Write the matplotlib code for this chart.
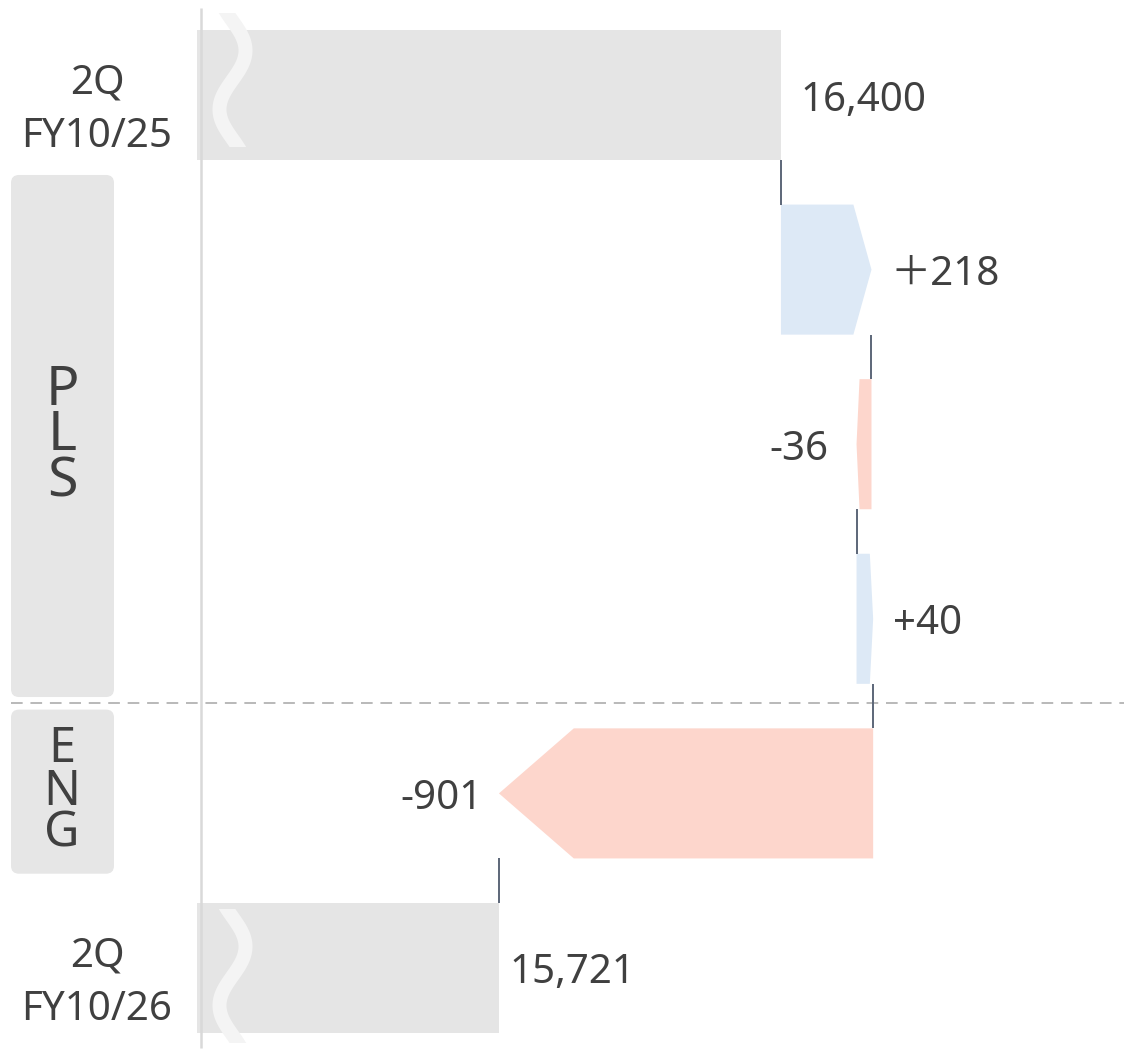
import numpy as np
import matplotlib
matplotlib.use("Agg")
import matplotlib.pyplot as plt
from matplotlib.patches import FancyBboxPatch
import matplotlib.transforms as mtransforms

# ---------------- data ----------------
start_label = "2Q\nFY10/25"
end_label = "2Q\nFY10/26"
start_value = 16400
end_value = 15721
delta_values = [218, -36, 40, -901]
value_labels = ["16,400", "＋218", "-36", "+40", "-901", "15,721"]
group_names = ["PLS", "ENG"]
group_sizes = [3, 1]
axis_break_value = 15000

# ---------------- style / layout ----------------
W, H, DPI = 1124, 1050, 100
PX_PER_UNIT = 0.41532          # horizontal scale (px per value unit)
CAT_PX = 174.6                 # px per category row
FIRST_CENTER_PX = 95           # px of first row centre from top
BREAK_PX = 199.5               # px of the axis break value
BAR_H = 0.745
TIP_FRAC = 0.2
GRAY = "#e5e5e5"
BLUE = "#dde9f6"
RED = "#fdd6cc"
CONN = "#5c6678"
TXT = "#404040"
FONT = ["Noto Sans", "Noto Sans CJK JP", "DejaVu Sans"]
label_offsets_px = [20, 19, -28, 20, -16, 11]
squiggle_extent_px = {0: (-82, 52), 5: (-59, 75)}
group_font_pt = [40, 35]
group_linespacing = [0.774, 0.797]
group_box_gaps = [(-0.042, -0.052), (0.02, -0.04)]

plt.rcParams["font.family"] = FONT

fig = plt.figure(figsize=(W / DPI, H / DPI), dpi=DPI)
ax = fig.add_axes([0, 0, 1, 1])
ax.set_xlim(axis_break_value - BREAK_PX / PX_PER_UNIT,
            axis_break_value + (W - BREAK_PX) / PX_PER_UNIT)
ax.set_ylim((H - FIRST_CENTER_PX) / CAT_PX, -FIRST_CENTER_PX / CAT_PX)
ax.axis("off")
x0 = ax.get_xlim()[0]

n_cat = len(delta_values) + 2
cum = start_value + np.cumsum(delta_values)
levels = np.concatenate([[start_value], cum])     # running totals
hh = BAR_H / 2
bar_left = axis_break_value - 2.5 / PX_PER_UNIT

# total bars
ax.barh([0, n_cat - 1], [start_value - bar_left, end_value - bar_left],
        left=bar_left, height=BAR_H, color=GRAY, zorder=2)

# delta arrows
for i, d in enumerate(delta_values):
    c = i + 1
    s, e = levels[i], levels[i + 1]
    tip = TIP_FRAC * d
    xs = [s, e - tip, e, e - tip, s]
    ys = [c - hh, c - hh, c, c + hh, c + hh]
    ax.fill(xs, ys, color=BLUE if d > 0 else RED, lw=0, zorder=2)

# connectors
for i in range(n_cat - 1):
    ax.plot([levels[i], levels[i]], [i + hh, i + 1 - hh], color=CONN, lw=1.4,
            zorder=3, solid_capstyle="butt")

# axis line (break position)
ax.plot([axis_break_value + 1.5 / PX_PER_UNIT] * 2,
        [(8 - FIRST_CENTER_PX) / CAT_PX, (1048 - FIRST_CENTER_PX) / CAT_PX],
        color="#d9d9d9", lw=1.8, zorder=5, solid_capstyle="butt")

# break squiggles
for c, (tp, bp) in squiggle_extent_px.items():
    yy = np.linspace(tp, bp, 120)
    t = (yy - tp) / (bp - tp)
    xc = BREAK_PX + 33 + 13 * np.sin(2 * np.pi * t / 0.88 - 0.43)
    sl = np.gradient(xc, yy)
    hw = 7 * np.sqrt(1 + sl ** 2)
    xs = np.concatenate([xc - hw, (xc + hw)[::-1]])
    ys = np.concatenate([yy, yy[::-1]])
    ax.fill(x0 + xs / PX_PER_UNIT, c + ys / CAT_PX, color="#f4f4f4", lw=0, zorder=4)

# value labels
base_drop_pt = 15.5 * 72 / DPI
for i, lab in enumerate(value_labels):
    if i == 0:
        xe = start_value
    elif i == n_cat - 1:
        xe = end_value
    elif delta_values[i - 1] > 0:
        xe = levels[i]
    else:
        xe = min(levels[i - 1], levels[i])
    off = label_offsets_px[i]
    ax.annotate(lab, (xe, i), xytext=(off * 72 / DPI, -base_drop_pt),
                textcoords="offset points",
                ha="left" if off > 0 else "right", va="baseline",
                fontsize=29, color=TXT, zorder=6)

# category labels (left)
bl = mtransforms.blended_transform_factory(ax.transAxes, ax.transData)
for c, lab in [(0, start_label), (n_cat - 1, end_label)]:
    ax.text(97 / W, c + 15 / CAT_PX, lab, transform=bl, ha="center", va="center",
            fontsize=29, color=TXT, linespacing=1.44)

# group boxes
pos = 1
for gi, (name, size) in enumerate(zip(group_names, group_sizes)):
    gt, gb = group_box_gaps[gi]
    top = pos - 0.5 + gt
    bot = pos + size - 1 + 0.5 + gb
    box = FancyBboxPatch((11 / W, top), 103 / W, bot - top,
                         boxstyle="round,pad=0,rounding_size=%f" % (8 / W),
                         mutation_aspect=W / CAT_PX,
                         transform=bl, facecolor="#e6e6e6", edgecolor="none", zorder=1)
    ax.add_patch(box)
    ax.text(62 / W, (top + bot) / 2, "\n".join(name), transform=bl,
            ha="center", va="center", fontsize=group_font_pt[gi], color=TXT,
            linespacing=group_linespacing[gi])
    pos += size

# dashed separator
ax.plot([11 / W, 1], [3.5 - 0.02] * 2, transform=bl, color="#b9b9b9", lw=1.4,
        linestyle=(0, (6, 4)), zorder=1)

fig.savefig("out.png", dpi=DPI, facecolor="white")
